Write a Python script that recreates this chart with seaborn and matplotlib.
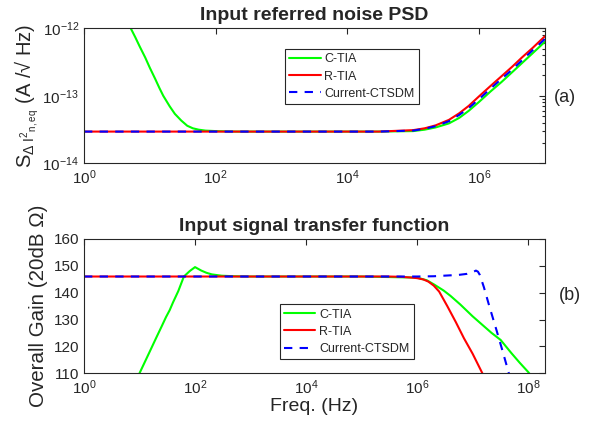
import matplotlib
matplotlib.use("Agg")
import numpy as np
import pandas as pd
import matplotlib.pyplot as plt
import seaborn as sns
from matplotlib.ticker import FixedLocator, NullLocator, LogLocator, NullFormatter

# --- data ---
names = ["C-TIA", "R-TIA", "Current-CTSDM"]

# (a) input referred noise PSD
noise_f_ctia = [4, 5, 6, 7, 8.5, 10, 12, 14, 16, 20, 24, 30, 37, 45, 55, 70, 100, 200, 1e3, 1e4, 3e4,
                1e5, 1.5e5, 2.2e5, 3.5e5, 5e5, 7e5, 1e6, 1.5e6, 2.2e6, 3.2e6, 4.5e6, 6.5e6, 1e7]
noise_ctia = [1.6e-12, 1.05e-12, 7.4e-13, 5.4e-13, 3.7e-13, 2.6e-13, 1.8e-13, 1.3e-13, 1.0e-13, 7.0e-14,
              5.4e-14, 4.3e-14, 3.6e-14, 3.3e-14, 3.15e-14, 3.05e-14, 3.0e-14, 2.95e-14, 2.95e-14, 2.95e-14,
              2.95e-14, 3.0e-14, 3.15e-14, 3.4e-14, 3.9e-14, 4.7e-14, 6.0e-14, 8.1e-14, 1.16e-13, 1.6e-13,
              2.24e-13, 3.05e-13, 4.25e-13, 6.3e-13]
noise_f_rtia = [1, 1e2, 1e4, 3e4, 1e5, 1.5e5, 2.2e5, 3.5e5, 5e5, 7e5, 1e6, 1.5e6, 2.2e6, 3.2e6, 4.5e6, 6.5e6, 1e7]
noise_rtia = [2.95e-14, 2.95e-14, 2.95e-14, 2.95e-14, 3.1e-14, 3.3e-14, 3.65e-14, 4.4e-14, 5.5e-14, 7.1e-14,
              9.8e-14, 1.4e-13, 1.95e-13, 2.7e-13, 3.7e-13, 5.1e-13, 7.6e-13]
noise_f_cts = [1, 1e2, 1e4, 3e4, 1e5, 1.5e5, 2.2e5, 3.5e5, 5e5, 7e5, 1e6, 1.5e6, 2.2e6, 3.2e6, 4.5e6, 6.5e6, 1e7]
noise_cts = [2.95e-14, 2.95e-14, 2.95e-14, 2.95e-14, 3.05e-14, 3.25e-14, 3.55e-14, 4.2e-14, 5.2e-14, 6.6e-14,
             8.9e-14, 1.28e-13, 1.78e-13, 2.45e-13, 3.35e-13, 4.7e-13, 6.9e-13]

# (b) input signal transfer function (dB)
gain_f_ctia = [8, 10, 15, 20, 25, 30, 35, 40, 50, 63, 80, 100, 130, 160, 200, 300, 500, 1e3, 1e4, 1e5,
               1e6, 1.5e6, 2e6, 3e6, 4e6, 6e6, 1e7, 1.6e7, 2.2e7, 3.2e7, 5e7, 7e7, 1e8, 1.3e8]
gain_ctia = [106, 110, 117.7, 123.2, 127.4, 130.9, 133.5, 136.3, 140.6, 146, 148, 149.5, 148.2, 147.4, 146.8,
             146.3, 146.1, 146, 146, 146, 145.6, 144.6, 143.1, 140.8, 138.8, 135.6, 131.2, 127.5, 125, 122.4,
             117.5, 114, 110.5, 107.5]
gain_f_rtia = [1, 1e4, 1e5, 3e5, 5e5, 8e5, 1e6, 1.3e6, 1.6e6, 2e6, 2.5e6, 3.5e6, 5e6, 7e6, 1e7, 1.5e7, 2e7]
gain_rtia = [146, 146, 146, 146, 145.9, 145.6, 145.4, 144.9, 144.1, 142.6, 140.4, 135, 129, 123, 117.3, 110, 105]
gain_f_cts = [1, 1e5, 1e6, 2e6, 3e6, 5.6e6, 8e6, 1e7, 1.15e7, 1.25e7, 1.35e7, 1.6e7, 2e7, 2.7e7, 3.5e7, 4.5e7, 6e7]
gain_cts = [146, 146, 146, 146.1, 146.3, 146.6, 147, 147.6, 148.2, 147.8, 146.6, 142, 135, 126, 118, 110, 101]

noise_df = pd.concat([
    pd.DataFrame({"freq": noise_f_ctia, "val": noise_ctia, "curve": names[0]}),
    pd.DataFrame({"freq": noise_f_rtia, "val": noise_rtia, "curve": names[1]}),
    pd.DataFrame({"freq": noise_f_cts, "val": noise_cts, "curve": names[2]}),
], ignore_index=True)

gain_df = pd.concat([
    pd.DataFrame({"freq": gain_f_ctia, "val": gain_ctia, "curve": names[0]}),
    pd.DataFrame({"freq": gain_f_rtia, "val": gain_rtia, "curve": names[1]}),
    pd.DataFrame({"freq": gain_f_cts, "val": gain_cts, "curve": names[2]}),
], ignore_index=True)

# --- style ---
sns.set_theme(style="white")
plt.rcParams["font.family"] = ["Liberation Sans", "DejaVu Sans"]
plt.rcParams["mathtext.fontset"] = "custom"
plt.rcParams["mathtext.rm"] = "Liberation Sans"
plt.rcParams["mathtext.it"] = "Liberation Sans:italic"
plt.rcParams["mathtext.bf"] = "Liberation Sans:bold"

palette = {"C-TIA": "#00ff00", "R-TIA": "#ff0000", "Current-CTSDM": "#0000ff"}
dashes = {"C-TIA": "", "R-TIA": "", "Current-CTSDM": (4, 3.5)}
dark = "#262626"

fig = plt.figure(figsize=(6, 4.32), dpi=100)
ax1 = fig.add_axes([0.14, 0.622, 0.768, 0.3125])
ax2 = fig.add_axes([0.14, 0.136, 0.768, 0.311])

for ax in (ax1, ax2):
    ax.set_xscale("log")
ax1.set_yscale("log")

sns.lineplot(data=noise_df, x="freq", y="val", hue="curve", style="curve",
             palette=palette, dashes=dashes, linewidth=1.5, estimator=None,
             legend=False, ax=ax1)
sns.lineplot(data=gain_df, x="freq", y="val", hue="curve", style="curve",
             palette=palette, dashes=dashes, linewidth=1.5, estimator=None,
             legend=False, ax=ax2)

# top panel axes
ax1.set_xlim(1, 1e7)
ax1.set_ylim(1e-14, 1e-12)
ax1.xaxis.set_major_locator(FixedLocator([1, 1e2, 1e4, 1e6]))
ax1.xaxis.set_minor_locator(NullLocator())
ax1.yaxis.set_major_locator(FixedLocator([1e-14, 1e-13, 1e-12]))
ax1.yaxis.set_minor_locator(LogLocator(base=10, subs=np.arange(2, 10), numticks=20))
ax1.yaxis.set_minor_formatter(NullFormatter())
ax1.set_title("Input referred noise PSD", fontsize=14, fontweight="bold", pad=6)
ax1.set_xlabel("")
ax1.set_ylabel(r"$\mathrm{S_{\Delta\ I^{2}{}_{n,eq}}}$ (A /√ Hz)", fontsize=14.5, labelpad=1)

# bottom panel axes
ax2.set_xlim(1, 2e8)
ax2.set_ylim(110, 160)
ax2.xaxis.set_major_locator(FixedLocator([1, 1e2, 1e4, 1e6, 1e8]))
ax2.xaxis.set_minor_locator(NullLocator())
ax2.set_yticks([110, 120, 130, 140, 150, 160])
ax2.set_title("Input signal transfer function", fontsize=14, fontweight="bold", pad=6)
ax2.set_xlabel("Freq. (Hz)", fontsize=14, labelpad=1)
ax2.set_ylabel("Overall Gain (20dB Ω)", fontsize=14.8, labelpad=4)

for ax in (ax1, ax2):
    ax.tick_params(which="both", direction="in", top=True, right=True,
                   colors=dark, labelcolor=dark, labelsize=11, width=0.8)
    ax.tick_params(which="major", length=4)
    ax.tick_params(which="minor", length=2.5)
    for sp in ax.spines.values():
        sp.set_color(dark)
        sp.set_linewidth(0.8)
    ax.xaxis.label.set_color(dark)
    ax.yaxis.label.set_color(dark)

leg_kw = dict(fontsize=9, frameon=True, fancybox=False, framealpha=1,
              edgecolor=dark, handlelength=2.5, handletextpad=0.3,
              borderpad=0.35, labelspacing=0.42, borderaxespad=0)
leg1 = ax1.legend(ax1.lines[:3], names, loc="upper left",
                  bbox_to_anchor=(0.436, 0.847), **leg_kw)
leg2 = ax2.legend(ax2.lines[:3], names, loc="upper left",
                  bbox_to_anchor=(0.425, 0.514), **leg_kw)
for leg in (leg1, leg2):
    leg.get_frame().set_linewidth(0.8)

fig.text(565 / 600, 1 - 98 / 432, "(a)", fontsize=13, ha="center", va="center", color=dark)
fig.text(570 / 600, 1 - 296 / 432, "(b)", fontsize=13, ha="center", va="center", color=dark)

fig.savefig("out.png", dpi=100)
